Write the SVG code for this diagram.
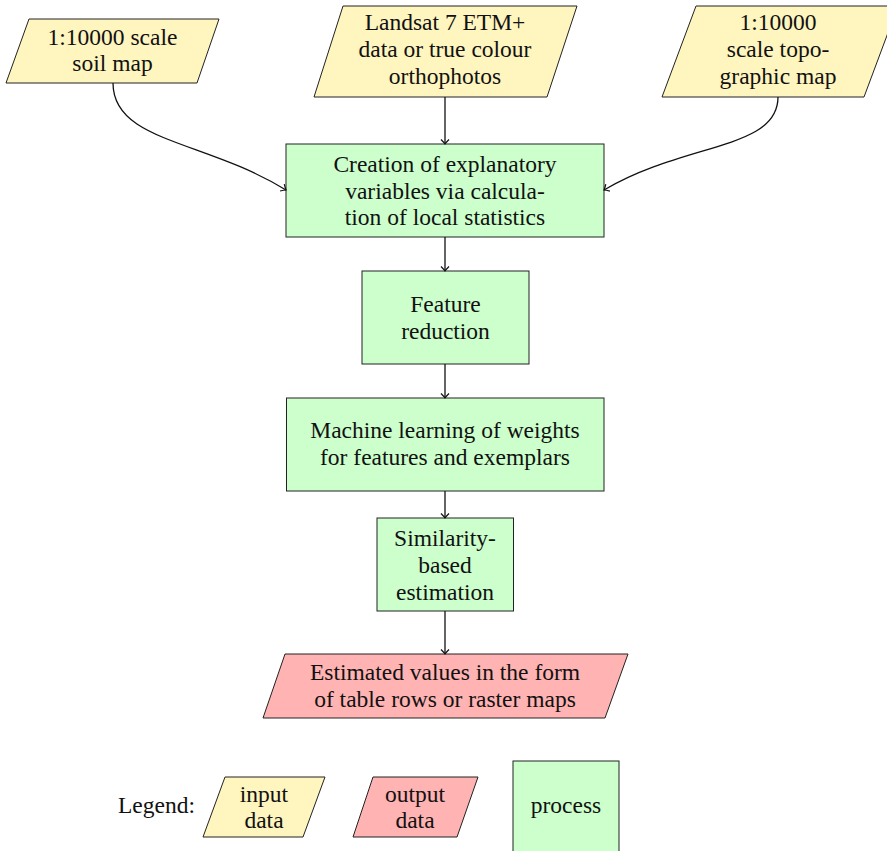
<svg xmlns="http://www.w3.org/2000/svg" width="887" height="851" viewBox="0 0 887 851">
<defs>
<style>
.in{fill:#fff5bf;stroke:#222;stroke-width:1}
.out{fill:#ffb3b3;stroke:#222;stroke-width:1}
.proc{fill:#ccffcc;stroke:#222;stroke-width:1}
text{font-family:"Liberation Serif","Times New Roman",serif;font-size:23.5px;fill:#111;text-anchor:middle}
.conn path{fill:none;stroke:#111;stroke-width:1.3}
</style>
<marker id="ah" markerUnits="userSpaceOnUse" markerWidth="12" markerHeight="12" viewBox="-6 -6 12 12" refX="0" refY="0" orient="auto">
<path d="M-4.5,-4 Q-1.5,-1 0,0 Q-1.5,1 -4.5,4" fill="none" stroke="#111" stroke-width="1.2"/>
</marker>
</defs>
<rect width="887" height="851" fill="#fff"/>

<g id="soilmap">
<polygon class="in" points="29,19 219,19 197,83 6,83"/>
<text x="112.5" y="44.5">1:10000 scale</text>
<text x="112.5" y="71">soil map</text>
</g>
<g id="landsat">
<polygon class="in" points="343,6 577,6 547,97 314,97"/>
<text x="445" y="30">Landsat 7 ETM+</text>
<text x="445" y="57">data or true colour</text>
<text x="445" y="83.5">orthophotos</text>
</g>
<g id="topomap">
<polygon class="in" points="696,6 898,6 864,97 662,97"/>
<text x="778" y="30">1:10000</text>
<text x="778" y="57">scale topo-</text>
<text x="778" y="83.5">graphic map</text>
</g>
<g id="creation">
<rect class="proc" x="286" y="144" width="318" height="93"/>
<text x="445" y="172">Creation of explanatory</text>
<text x="445" y="198.5">variables via calcula-</text>
<text x="445" y="225.3">tion of local statistics</text>
</g>
<g id="reduction">
<rect class="proc" x="362" y="271" width="167" height="93"/>
<text x="445.5" y="312.3">Feature</text>
<text x="445.5" y="339">reduction</text>
</g>
<g id="learning">
<rect class="proc" x="286.5" y="398" width="317.5" height="93"/>
<text x="445" y="438">Machine learning of weights</text>
<text x="445" y="464.5">for features and exemplars</text>
</g>
<g id="similarity">
<rect class="proc" x="377" y="518" width="136.5" height="93"/>
<text x="445" y="546.3">Similarity-</text>
<text x="445" y="573">based</text>
<text x="445" y="599.5">estimation</text>
</g>
<g id="estimated">
<polygon class="out" points="285,654 628,654 605,718 263,718"/>
<text x="445" y="680">Estimated values in the form</text>
<text x="445" y="706.5">of table rows or raster maps</text>
</g>

<g id="legend">
<text x="195" y="813" style="text-anchor:end">Legend:</text>
<g id="legend-input">
<polygon class="in" points="225,777 325,777 303,837 203,837"/>
<text x="264" y="802">input</text>
<text x="264" y="828">data</text>
</g>
<g id="legend-output">
<polygon class="out" points="373,777 478,777 457,837 353,837"/>
<text x="415" y="802">output</text>
<text x="415" y="828">data</text>
</g>
<g id="legend-process">
<rect class="proc" x="513" y="761" width="106" height="95"/>
<text x="566" y="813">process</text>
</g>
</g>

<g class="conn" id="connectors">
<path d="M113,83 C113,142 205,140 286,190" marker-end="url(#ah)"/>
<path d="M445,97 L445,144" marker-end="url(#ah)"/>
<path d="M778,97 C778,150 685,142 604,190" marker-end="url(#ah)"/>
<path d="M445,237 L445,271" marker-end="url(#ah)"/>
<path d="M445,364 L445,398" marker-end="url(#ah)"/>
<path d="M445,491 L445,518" marker-end="url(#ah)"/>
<path d="M445,611 L445,654" marker-end="url(#ah)"/>
</g>
</svg>
